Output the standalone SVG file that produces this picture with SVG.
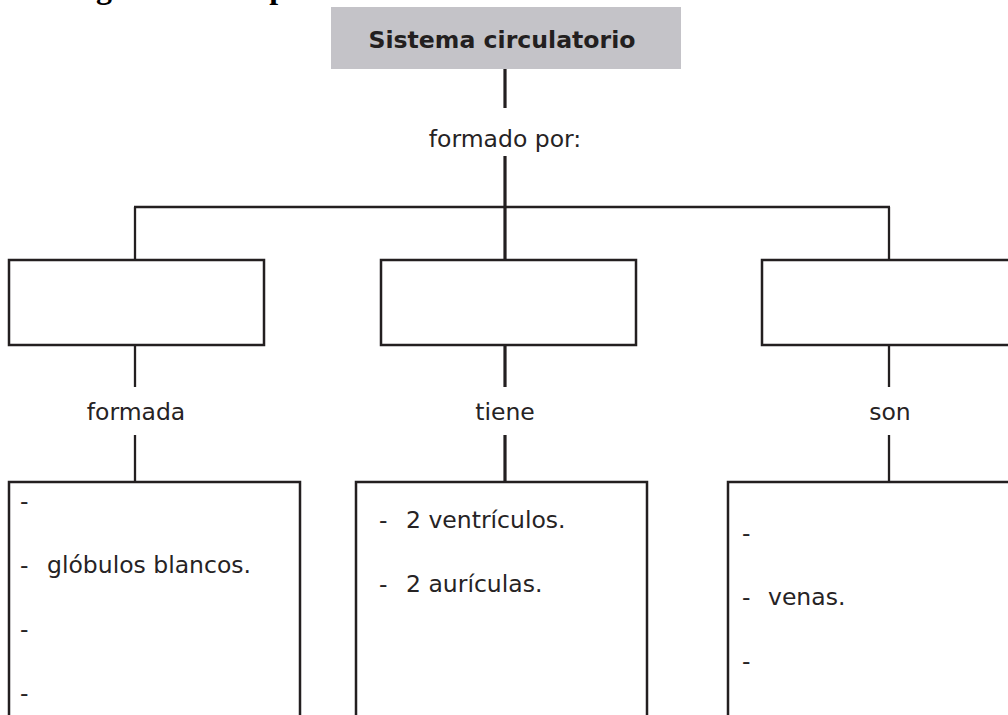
<svg xmlns="http://www.w3.org/2000/svg" width="1008" height="715" viewBox="0 0 1008 715">
<style>
.box{fill:#fff;stroke:#231f20;stroke-width:2.5}
.lbl{font-family:"DejaVu Sans",Verdana,sans-serif;font-size:23.5px;fill:#262324}
.ttl{font-family:"DejaVu Sans",Verdana,sans-serif;font-size:23.6px;font-weight:bold;fill:#231f20}
.ln{stroke:#231f20;stroke-width:2.3;fill:none}
.ln3{stroke:#231f20;stroke-width:3.2;fill:none}
</style>
<rect width="1008" height="715" fill="#fff"/>
<text x="48" y="-2" style="font-family:'Liberation Serif',serif;font-size:32px;font-weight:bold" fill="#000">Diagrama conceptual</text>
<g id="connectors">
<line class="ln3" x1="505" y1="69" x2="505" y2="108"/>
<line class="ln3" x1="505" y1="156" x2="505" y2="260"/>
<line class="ln" x1="134" y1="207" x2="890" y2="207"/>
<line class="ln" x1="135" y1="207" x2="135" y2="260"/>
<line class="ln" x1="889" y1="207" x2="889" y2="260"/>
<line class="ln" x1="135" y1="345" x2="135" y2="387"/>
<line class="ln" x1="135" y1="435" x2="135" y2="482"/>
<line class="ln3" x1="505" y1="345" x2="505" y2="387"/>
<line class="ln3" x1="505" y1="435" x2="505" y2="482"/>
<line class="ln" x1="889" y1="345" x2="889" y2="387"/>
<line class="ln" x1="889" y1="435" x2="889" y2="482"/>
<text class="lbl" x="505" y="147" text-anchor="middle">formado por:</text>
<text class="lbl" x="136" y="420" text-anchor="middle">formada</text>
<text class="lbl" x="505" y="420" text-anchor="middle">tiene</text>
<text class="lbl" x="890" y="420" text-anchor="middle">son</text>
</g>
<g id="root">
<rect x="331" y="7" width="350" height="62" fill="#c4c3c8"/>
<text class="ttl" x="502" y="48" text-anchor="middle">Sistema circulatorio</text>
</g>
<g id="box-left"><rect class="box" x="9" y="260" width="255" height="85"/></g>
<g id="box-mid"><rect class="box" x="381" y="260" width="255" height="85"/></g>
<g id="box-right"><rect class="box" x="762" y="260" width="260" height="85"/></g>
<g id="list-left">
<rect class="box" x="9" y="482" width="291" height="250"/>
<text class="lbl" x="20" y="509">-</text>
<text class="lbl" x="20" y="573">-</text>
<text class="lbl" x="47" y="573">glóbulos blancos.</text>
<text class="lbl" x="20" y="637">-</text>
<text class="lbl" x="20" y="701">-</text>
</g>
<g id="list-mid">
<rect class="box" x="356" y="482" width="291" height="250"/>
<text class="lbl" x="379" y="528">-</text>
<text class="lbl" x="406" y="528">2 ventrículos.</text>
<text class="lbl" x="379" y="592">-</text>
<text class="lbl" x="406" y="592">2 aurículas.</text>
</g>
<g id="list-right">
<rect class="box" x="728" y="482" width="300" height="250"/>
<text class="lbl" x="742" y="541">-</text>
<text class="lbl" x="742" y="605">-</text>
<text class="lbl" x="768" y="605">venas.</text>
<text class="lbl" x="742" y="669">-</text>
</g>
</svg>
